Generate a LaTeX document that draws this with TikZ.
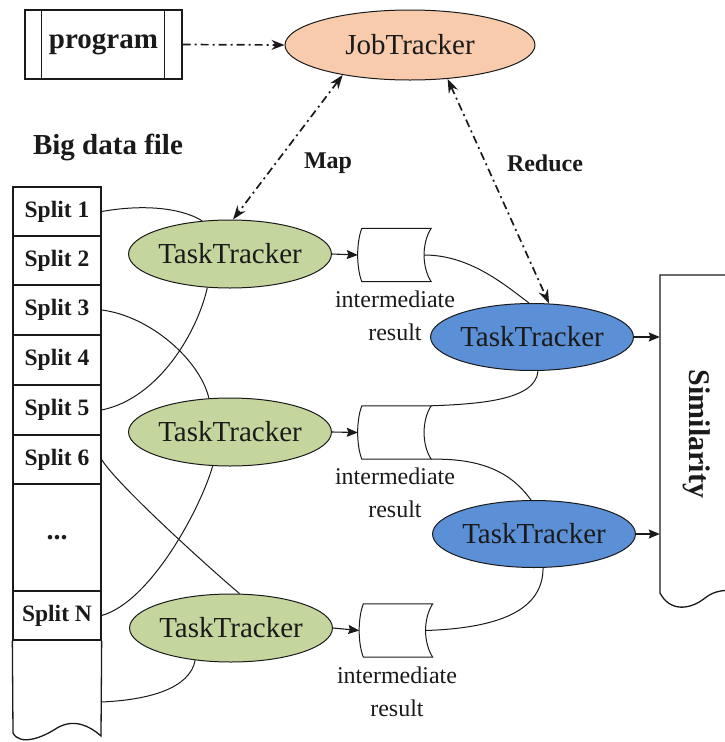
\documentclass[tikz,border=0pt]{standalone}
\usepackage{fontspec}
\setmainfont{Liberation Serif}
\usetikzlibrary{shapes.geometric,arrows.meta,calc}
\definecolor{jobc}{HTML}{F8CBAD}
\definecolor{mapc}{HTML}{C4D69E}
\definecolor{redc}{HTML}{5B8FD6}
\definecolor{ink}{HTML}{1A1A1A}
\begin{document}
\begin{tikzpicture}[x=1pt,y=-1pt,
  tracker/.style={ellipse, draw=ink, line width=1pt, inner sep=0pt, minimum width=176pt, minimum height=68pt, font=\fontsize{29}{32}\selectfont, text=ink},
  splitcell/.style={draw=ink, line width=1.3pt, minimum width=88pt, inner sep=0pt, font=\bfseries\fontsize{23.5}{26}\selectfont, text=ink},
  store/.style={minimum width=73pt, minimum height=53pt, inner sep=0pt},
  storelab/.style={align=center, font=\fontsize{24}{33}\selectfont, text=ink},
  link/.style={line width=1pt, draw=ink},
  flow/.style={line width=1.1pt, draw=ink, -{Stealth[length=11pt,width=9pt,inset=1.5pt]}},
  ctrl/.style={line width=1.7pt, draw=ink, dash pattern=on 8pt off 4pt on 2pt off 4pt},
  blab/.style={font=\bfseries\fontsize{24}{26}\selectfont, text=ink}
]
\useasboundingbox (0,0) rectangle (725,742);

% program and JobTracker
\node[draw=ink, line width=1.3pt, minimum width=157pt, minimum height=69pt, inner sep=0pt,
      font=\bfseries\fontsize{29}{32}\selectfont, text=ink] (prog) at (103.5,44.5) {program};
\draw[ink, line width=1.3pt] ([xshift=17pt]prog.north west) -- ([xshift=17pt]prog.south west);
\draw[ink, line width=1.3pt] ([xshift=-18pt]prog.north east) -- ([xshift=-18pt]prog.south east);
\node[tracker, fill=jobc, minimum width=250pt, minimum height=70pt] (jt) at (410,45) {JobTracker};
\draw[ctrl, -{Stealth[length=13pt,width=10pt]}] (prog.east) -- (jt.west);

% big data file column
\node[font=\bfseries\fontsize{29}{32}\selectfont, text=ink] (bdf) at (108,147) {Big data file};
\node[splitcell, minimum height=49pt] (s1) at (57,211.5) {Split 1};
\node[splitcell, minimum height=49pt] (s2) at (57,260.5) {Split 2};
\node[splitcell, minimum height=50pt] (s3) at (57,310) {Split 3};
\node[splitcell, minimum height=50pt] (s4) at (57,360) {Split 4};
\node[splitcell, minimum height=50pt] (s5) at (57,410) {Split 5};
\node[splitcell, minimum height=49pt] (s6) at (57,459.5) {Split 6};
\node[splitcell, minimum height=107pt, font=\bfseries\fontsize{28}{30}\selectfont] (sd) at (57,537.5) {...};
\node[splitcell, minimum height=49pt] (sN) at (57,615.5) {Split N};
\draw[ink, line width=1.3pt] (sN.south west) -- (13,733)
  .. controls (20,746) and (42,738) .. (57,728)
  .. controls (74,718) and (90,726) .. (101,736) -- (sN.south east);
\coordinate (sb) at (101,702);

% map trackers
\node[tracker, fill=mapc] (tt1) at (230,254) {TaskTracker};
\node[tracker, fill=mapc] (tt2) at (230,432) {TaskTracker};
\node[tracker, fill=mapc] (tt3) at (231,628) {TaskTracker};

% intermediate results
\node[store] (r1) at (394.5,255) {};
\node[store] (r2) at (394.5,432.5) {};
\node[store] (r3) at (396,630.5) {};
\foreach \n in {r1,r2,r3}{
  \draw[line width=1pt, draw=ink, fill=white] ([xshift=4pt]\n.north west) -- (\n.north east)
    .. controls +(-9.5,14.5) and +(-9.5,-14.5) .. (\n.south east)
    -- ([xshift=4pt]\n.south west)
    .. controls +(-5.5,-14.5) and +(-5.5,14.5) .. ([xshift=4pt]\n.north west) -- cycle;
}
\coordinate (r1c) at ([xshift=-7pt]r1.east);
\coordinate (r3c) at ([xshift=-7pt]r3.east);
\node[storelab] (l1) at (395,316) {intermediate\\result};
\node[storelab] (l2) at (395,493) {intermediate\\result};
\node[storelab] (l3) at (397,691.5) {intermediate\\result};

% reduce trackers
\node[tracker, fill=redc, minimum width=177pt, minimum height=67pt] (bl1) at (532,337) {TaskTracker};
\node[tracker, fill=redc, minimum width=176pt, minimum height=67pt] (bl2) at (534,534) {TaskTracker};

% similarity box
\node[minimum width=80pt, minimum height=322pt, inner sep=0pt] (simbox) at (700,436) {};
\draw[ink, line width=1.3pt] (740,275) -- (660,275) -- (660,593)
  .. controls (670,612) and (690,610) .. (705,598)
  .. controls (715,590) and (727,589) .. (740,592);
\node[rotate=-90, font=\bfseries\fontsize{30}{32}\selectfont, text=ink] (sim) at (697,434) {Similarity};

% splits to map trackers
\draw[link] (s1.east) .. controls (150,203) and (185,210) .. (tt1.130);
\draw[link] (s5.east) .. controls (160,398) and (198,330) .. (tt1.236);
\draw[link] (s3.east) .. controls (150,316) and (200,360) .. (tt2.122);
\draw[link] (sN.east) .. controls (150,602) and (200,510) .. (tt2.243);
\draw[link] (s6.east) .. controls (115,482) and (200,560) .. (tt3.76);
\draw[link] (sb) .. controls (150,700) and (190,688) .. (tt3.222);

% map to intermediate
\draw[flow] (tt1.east) -- (r1.west);
\draw[flow] (tt2.east) -- (r2.west);
\draw[flow] (tt3.east) -- (r3.west);

% intermediate to reduce
\draw[link] (r1c) .. controls (470,255) and (505,285) .. (bl1.95);
\draw[link] (bl1.280) .. controls (536,400) and (480,404) .. (r2.north east);
\draw[link] (r2.south east) .. controls (490,458) and (515,478) .. (bl2.95);
\draw[link] (r3c) .. controls (500,628) and (543,610) .. (bl2.285);

% reduce to similarity
\draw[flow] (bl1.east) -- (bl1.east -| simbox.west);
\draw[flow] (bl2.east) -- (bl2.east -| simbox.west);

% control arrows
\draw[ctrl, {Stealth[length=14pt,width=10pt]}-{Stealth[length=14pt,width=10pt]}] (jt.204) -- (tt1.85);
\draw[ctrl, {Stealth[length=14pt,width=10pt]}-{Stealth[length=14pt,width=10pt]}] (jt.318) -- (bl1.63);
\node[blab] (map) at (328,163) {Map};
\node[blab] (red) at (545,163) {Reduce};
\end{tikzpicture}
\end{document}
